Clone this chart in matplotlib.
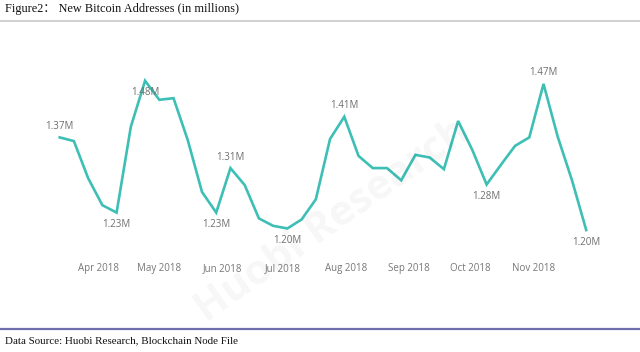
import matplotlib
matplotlib.use("Agg")
import matplotlib.pyplot as plt
import matplotlib.dates as mdates
import numpy as np
import datetime as dt

# ---- data ----
start_date = "2018-03-13"
n_weeks = 38
values = [1.373, 1.366, 1.296, 1.245, 1.231, 1.393, 1.480, 1.444, 1.447, 1.368,
          1.270, 1.231, 1.315, 1.283, 1.220, 1.206, 1.201, 1.218, 1.256, 1.370,
          1.412, 1.338, 1.315, 1.315, 1.292, 1.340, 1.335, 1.313, 1.404, 1.349,
          1.284, 1.321, 1.357, 1.373, 1.474, 1.374, 1.292, 1.198]
label_idx = [0, 4, 6, 11, 12, 16, 20, 30, 34, 37]
label_pos = ["above", "below", "below", "below", "above", "below", "above", "below", "above", "below"]
tick_months = ["2018-04-01", "2018-05-01", "2018-06-01", "2018-07-01",
               "2018-08-01", "2018-09-01", "2018-10-01", "2018-11-01"]
title = "Figure2： New Bitcoin Addresses (in millions)"
source = "Data Source: Huobi Research, Blockchain Node File"

dates = [np.datetime64(start_date) + np.timedelta64(7 * i, "D") for i in range(n_weeks)]
dates = [d.astype("datetime64[D]").astype(dt.date) for d in dates]
ticks = [dt.date.fromisoformat(t) for t in tick_months]

fig = plt.figure(figsize=(6.4, 3.52), dpi=100)
W, H = 640, 352

# axes placement (pixels)
left_px, right_px, top_px, bot_px = 40, 610, 40, 255
ax = fig.add_axes([left_px / W, 1 - bot_px / H, (right_px - left_px) / W, (bot_px - top_px) / H])

apr1 = mdates.date2num(dt.date(2018, 4, 1))
ppd = 2.033
ax.set_xlim(apr1 - (98.3 - left_px) / ppd, apr1 + (right_px - 98.3) / ppd)
ax.set_ylim(1.1509, 1.5569)

line_color = "#3dbfb5"
ax.plot(dates, values, color=line_color, lw=1.9, solid_joinstyle="miter", zorder=3)

for i, pos in zip(label_idx, label_pos):
    off = 11 if pos == "above" else -12
    ax.annotate(f"{values[i]:.2f}M", (mdates.date2num(dates[i]), values[i]),
                xytext=(0, off), textcoords="offset pixels",
                ha="center", va="center", fontsize=7, color="#6e6e6e",
                family=["Open Sans", "DejaVu Sans"], zorder=4)

ax.set_xticks([mdates.date2num(t) for t in ticks])
ax.xaxis.set_major_formatter(mdates.DateFormatter("%b %Y"))
ax.tick_params(axis="x", length=0, pad=6, labelsize=7, labelcolor="#777777")
for lab in ax.get_xticklabels():
    lab.set_family(["Open Sans", "DejaVu Sans"])
ax.set_yticks([])
for s in ax.spines.values():
    s.set_visible(False)
ax.patch.set_alpha(0)

# watermark
fig.text(0.52, 0.37, "Huobi Research", fontsize=30, color="#000000", alpha=0.035,
         rotation=35, ha="center", va="center", fontweight="bold",
         family=["Open Sans", "DejaVu Sans"], zorder=0)

# title, rules, footer
fig.text(5 / W, 1 - 9 / H, title, fontsize=8.8, color="#111111", ha="left", va="center",
         family=["Liberation Serif", "Noto Sans CJK SC"])
fig.add_artist(plt.Line2D([0, 1], [1 - 20.5 / H, 1 - 20.5 / H], color="#c8c8c8", lw=1.2,
                          transform=fig.transFigure))
fig.add_artist(plt.Line2D([0, 1], [1 - 329 / H, 1 - 329 / H], color="#6f6fae", lw=1.6,
                          transform=fig.transFigure))
fig.text(5 / W, 1 - 341 / H, source, fontsize=7.9, color="#111111", ha="left", va="center",
         family=["Liberation Serif", "DejaVu Serif"])

fig.savefig("out.png", dpi=100)
